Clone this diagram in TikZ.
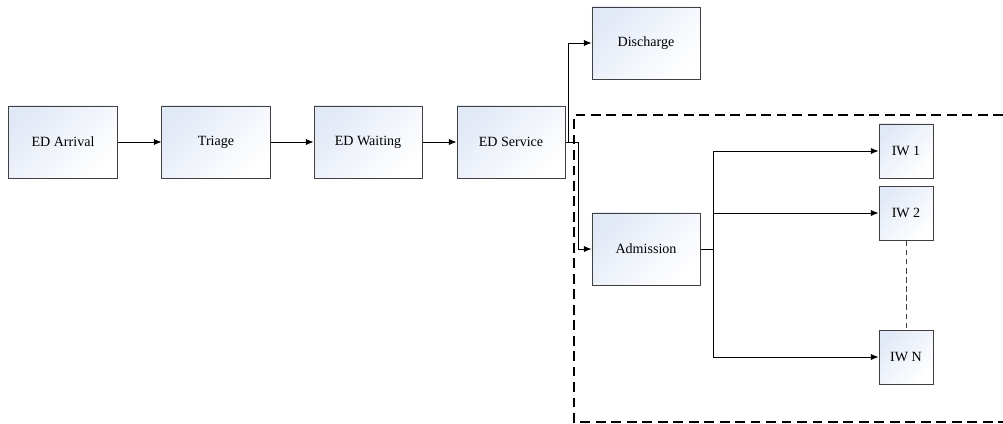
\documentclass[tikz,border=0pt]{standalone}
\usepackage{fontspec}
\setmainfont{Liberation Serif}
\usetikzlibrary{arrows.meta,positioning}
\definecolor{boxblue}{HTML}{E2E9F6}
\definecolor{boxline}{HTML}{404040}

\begin{document}
\begin{tikzpicture}[x=0.025cm,y=-0.025cm,
  stage/.style={draw=boxline,line width=0.7pt,top color=boxblue,bottom color=white,shading angle=45,
    minimum width=2.7cm,minimum height=1.8cm,inner sep=0pt,font=\fontsize{10}{12}\selectfont},
  ward/.style={stage,minimum width=1.35cm,minimum height=1.35cm},
  flow/.style={-{Latex[length=5.5pt,width=4.5pt]},line width=0.6pt},
  region/.style={dashed,dash pattern=on 7pt off 4pt,line width=0.9pt}]
 \useasboundingbox (0,0) rectangle (1003,423);
 \node[stage] (arrival)   at (63,142)  {ED Arrival};
 \node[stage] (triage)    at (216,142) {Triage};
 \node[stage] (waiting)   at (368,142) {ED Waiting};
 \node[stage] (service)   at (511,142) {ED Service};
 \node[stage] (discharge) at (646,43)  {Discharge};
 \node[stage] (admission) at (646,249) {Admission};
 \node[ward]  (iw1)       at (906,151) {IW 1};
 \node[ward]  (iw2)       at (906,213) {IW 2};
 \node[ward]  (iwn)       at (906,357) {IW N};
 \coordinate (split) at (713,249);
 \draw[region] (1003,115) -- (574,115) -- (574,422) -- (1003,422);
 \draw[flow] (arrival) -- (triage);
 \draw[flow] (triage) -- (waiting);
 \draw[flow] (waiting) -- (service);
 \draw[flow] (service.east) -- ++(3,0) |- (discharge.west);
 \draw[flow] (service.east) -- (578,142) |- (admission.west);
 \draw[line width=0.6pt] (admission.east) -- (split);
 \foreach \w in {iw1,iw2,iwn}
   \draw[flow] (split) |- (\w.west);
 \draw[dashed,dash pattern=on 4pt off 2.5pt,line width=0.5pt,draw=boxline] (iw2) -- (iwn);
\end{tikzpicture}
\end{document}
